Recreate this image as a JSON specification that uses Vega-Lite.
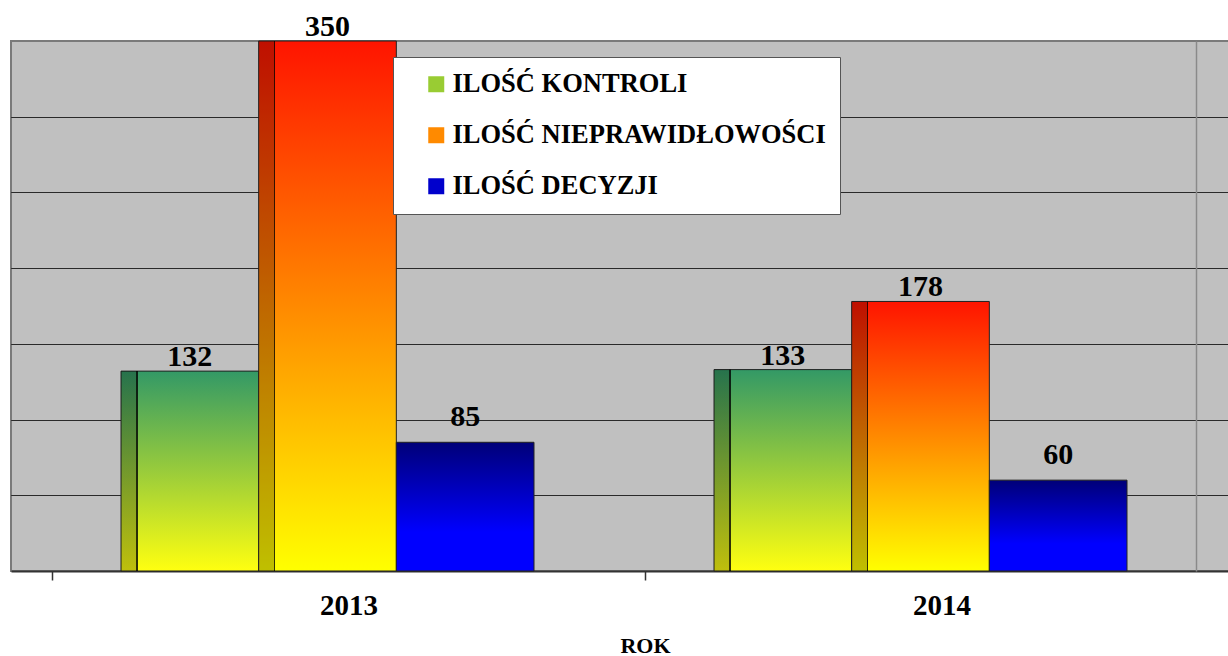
{
  "$schema": "https://vega.github.io/schema/vega-lite/v6.json",
  "width": 1227,
  "height": 530,
  "autosize": {"type": "none"},
  "padding": {"left": 11, "top": 41, "right": 0, "bottom": 85},
  "background": "white",
  "config": {
    "view": {"fill": "#c0c0c0", "stroke": "#7a7a7a", "strokeWidth": 2},
    "font": "Liberation Serif"
  },
  "data": {
    "values": [
      {"rok": "2013", "seria": "ILOŚĆ KONTROLI", "wartosc": 132},
      {"rok": "2013", "seria": "ILOŚĆ NIEPRAWIDŁOWOŚCI", "wartosc": 350},
      {"rok": "2013", "seria": "ILOŚĆ DECYZJI", "wartosc": 85},
      {"rok": "2014", "seria": "ILOŚĆ KONTROLI", "wartosc": 133},
      {"rok": "2014", "seria": "ILOŚĆ NIEPRAWIDŁOWOŚCI", "wartosc": 178},
      {"rok": "2014", "seria": "ILOŚĆ DECYZJI", "wartosc": 60}
    ]
  },
  "resolve": {"axis": {"y": "independent"}},
  "encoding": {
    "x": {
      "field": "rok",
      "type": "nominal",
      "scale": {"paddingInner": 0, "paddingOuter": 0.03457, "align": 1},
      "axis": {
        "title": "ROK",
        "titleX": 634,
        "titleAnchor": "start",
        "titleAlign": "center",
        "labelAngle": 0,
        "tickBand": "extent",
        "labelFont": "Liberation Serif",
        "labelFontWeight": "bold",
        "labelFontSize": 29,
        "labelColor": "#000000",
        "labelPadding": 11,
        "domainColor": "#333333",
        "domainWidth": 2,
        "tickColor": "#333333",
        "tickSize": 9,
        "tickWidth": 1.5,
        "titleFont": "Liberation Serif",
        "titleFontWeight": "bold",
        "titleFontSize": 22,
        "titleColor": "#000000",
        "titlePadding": 15
      }
    },
    "xOffset": {
      "field": "seria",
      "type": "nominal",
      "scale": {
        "domain": ["ILOŚĆ KONTROLI", "ILOŚĆ NIEPRAWIDŁOWOŚCI", "ILOŚĆ DECYZJI"],
        "range": [69, 482],
        "paddingInner": 0,
        "paddingOuter": 0
      }
    },
    "y": {
      "field": "wartosc",
      "type": "quantitative",
      "scale": {"domain": [0, 350], "nice": false},
      "axis": {
        "title": null,
        "labels": false,
        "ticks": false,
        "domain": false,
        "grid": true,
        "gridColor": "#2a2a2a",
        "gridWidth": 1,
        "values": [50, 100, 150, 200, 250, 300]
      }
    }
  },
  "layer": [
    {
      "mark": {"type": "bar", "stroke": "#222222", "strokeWidth": 1},
      "encoding": {
        "fill": {
          "condition": [
            {"test": "datum.seria == 'ILOŚĆ KONTROLI'", "value": {"gradient": "linear", "x1": 0, "y1": 0, "x2": 0, "y2": 1, "stops": [{"offset": 0, "color": "#339966"}, {"offset": 1, "color": "#ffff10"}]}},
            {"test": "datum.seria == 'ILOŚĆ NIEPRAWIDŁOWOŚCI'", "value": {"gradient": "linear", "x1": 0, "y1": 0, "x2": 0, "y2": 1, "stops": [{"offset": 0, "color": "#ff1400"}, {"offset": 1, "color": "#ffff00"}]}},
            {"test": "datum.seria == 'ILOŚĆ DECYZJI'", "value": {"gradient": "linear", "x1": 0, "y1": 0, "x2": 0, "y2": 1, "stops": [{"offset": 0, "color": "#000078"}, {"offset": 0.7, "color": "#0000ff"}, {"offset": 1, "color": "#0000ff"}]}}
          ],
          "field": "seria",
          "type": "nominal",
          "scale": {
            "domain": ["ILOŚĆ KONTROLI", "ILOŚĆ NIEPRAWIDŁOWOŚCI", "ILOŚĆ DECYZJI"],
            "range": ["#99cc33", "#ff8a00", "#0000cc"]
          },
          "legend": {
            "title": null,
            "orient": "none",
            "legendX": 382,
            "legendY": 16,
            "fillColor": "white",
            "strokeColor": "#555555",
            "padding": 14,
            "symbolType": "square",
            "symbolSize": 256,
            "symbolStrokeColor": "#444444",
            "symbolStrokeWidth": 1,
            "symbolOpacity": 1,
            "symbolOffset": 16,
            "labelOffset": 3,
            "labelFont": "Liberation Serif",
            "labelFontWeight": "bold",
            "labelFontSize": 26.5,
            "labelColor": "#000000",
            "labelLimit": 600,
            "rowPadding": 24,
            "encode": {
              "symbols": {
                "update": {
                  "fill": {"value": {"expr": "datum.value == 'ILOŚĆ KONTROLI' ? {gradient: 'linear', x1: 0, y1: 0, x2: 0, y2: 1, stops: [{offset: 0, color: '#339966'}, {offset: 1, color: '#ffff10'}]} : datum.value == 'ILOŚĆ NIEPRAWIDŁOWOŚCI' ? {gradient: 'linear', x1: 0, y1: 0, x2: 0, y2: 1, stops: [{offset: 0, color: '#ff1400'}, {offset: 1, color: '#ffff00'}]} : {gradient: 'linear', x1: 0, y1: 0, x2: 0, y2: 1, stops: [{offset: 0, color: '#000078'}, {offset: 1, color: '#0000ff'}]}"}}
                }
              }
            }
          }
        }
      }
    },
    {
      "transform": [{"filter": "datum.seria != 'ILOŚĆ DECYZJI'"}],
      "mark": {
        "type": "bar",
        "strokeWidth": 0,
        "fill": {"gradient": "linear", "x1": 0, "y1": 0, "x2": 1, "y2": 0, "stops": [
          {"offset": 0, "color": "rgba(0,0,0,0.25)"},
          {"offset": 0.112, "color": "rgba(0,0,0,0.25)"},
          {"offset": 0.112, "color": "rgba(0,0,0,0.8)"},
          {"offset": 0.122, "color": "rgba(0,0,0,0.8)"},
          {"offset": 0.122, "color": "rgba(0,0,0,0)"},
          {"offset": 1, "color": "rgba(0,0,0,0)"}
        ]}
      },
      "encoding": {
        "y": {
          "field": "wartosc",
          "type": "quantitative",
          "scale": {"domain": [0, 350], "nice": false},
          "axis": {
            "orient": "right",
            "offset": -42,
            "title": null,
            "labels": false,
            "ticks": false,
            "grid": false,
            "domain": true,
            "domainColor": "#8a8a8a",
            "domainWidth": 1.5
          }
        }
      }
    },
    {
      "transform": [{"filter": "datum.seria != 'ILOŚĆ DECYZJI'"}],
      "mark": {"type": "text", "baseline": "bottom", "dy": 1, "font": "Liberation Serif", "fontWeight": "bold", "fontSize": 30, "color": "#000000"},
      "encoding": {"text": {"field": "wartosc", "type": "quantitative"}}
    },
    {
      "transform": [{"filter": "datum.seria == 'ILOŚĆ DECYZJI'"}],
      "mark": {"type": "text", "baseline": "bottom", "dy": -10, "font": "Liberation Serif", "fontWeight": "bold", "fontSize": 30, "color": "#000000"},
      "encoding": {"text": {"field": "wartosc", "type": "quantitative"}}
    }
  ]
}
